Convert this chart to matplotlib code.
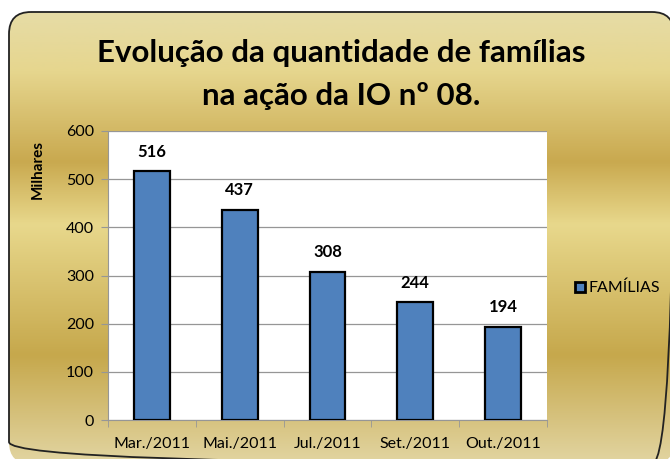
import numpy as np
from matplotlib import pyplot as plt
from matplotlib.colors import LinearSegmentedColormap
from matplotlib.patches import FancyBboxPatch
from matplotlib.lines import Line2D

plt.rcParams['font.family'] = ['Lato', 'DejaVu Sans']

months = ['Mar./2011', 'Mai./2011', 'Jul./2011', 'Set./2011', 'Out./2011']
familias = [516, 437, 308, 244, 194]
title = 'Evolução da quantidade de famílias\nna ação da IO nº 08.'

W, H = 670, 459
fig = plt.figure(figsize=(W / 100, H / 100), dpi=100)

# gold metallic background, drawn in pixel coords of the whole figure
bg = fig.add_axes([0, 0, 1, 1])
bg.set_xlim(0, W)
bg.set_ylim(H, 0)
bg.axis('off')

stops = [(0.0, '#e6dca6'), (0.13, '#e6d68e'), (0.33, '#c9a94f'),
         (0.47, '#e8d88c'), (0.76, '#c6a84c'), (1.0, '#e2d5a2')]
cmap = LinearSegmentedColormap.from_list('gold', stops)
grad = np.linspace(0, 1, 256).reshape(-1, 1)
box = FancyBboxPatch((9, 12), 665, 452, boxstyle='round,pad=0,rounding_size=22',
                     facecolor='none', edgecolor='#222222', linewidth=1.3, zorder=3)
bg.add_patch(box)
img = bg.imshow(grad, cmap=cmap, extent=(9, 674, 464, 12), aspect='auto', zorder=1)
img.set_clip_path(box)

fig.text(0.509, 1 - 74.5 / H, title, ha='center', va='center', fontsize=22.5,
         fontweight='bold', linespacing=1.65)

ax = fig.add_axes([108 / W, 1 - 420 / H, 439 / W, 289 / H])
x = np.arange(len(months))
bars = ax.bar(x, familias, width=0.41, color='#4f81bd', edgecolor='black',
              linewidth=1.6, zorder=3, label='FAMÍLIAS')
for xi, v in zip(x, familias):
    ax.annotate(str(v), (xi, v), xytext=(0, 14), textcoords='offset points',
                ha='center', va='center', fontsize=12, fontweight='bold')

ax.set_xlim(-0.5, len(months) - 0.5)
ax.set_ylim(0, 600)
ax.set_yticks(range(0, 601, 100))
ax.yaxis.grid(True, color='#969696', linewidth=0.9)
ax.set_axisbelow(True)
ax.set_xticks(x)
ax.set_xticklabels(months, fontsize=11.5)
ax.set_xticks(np.arange(-0.5, len(months), 1), minor=True)
ax.tick_params(axis='x', which='major', length=0, pad=12)
ax.tick_params(axis='x', which='minor', length=5, color='#969696', direction='out')
ax.tick_params(axis='y', length=5, color='#969696', labelsize=11.5, pad=5)
for s in ['top', 'right']:
    ax.spines[s].set_visible(False)
for s in ['left', 'bottom']:
    ax.spines[s].set_color('#969696')
ax.set_ylabel('Milhares', fontsize=11, fontweight='bold')
ax.yaxis.set_label_coords(-0.1435, 0.868)

handle = Line2D([], [], marker='s', linestyle='none', markersize=7.5,
                markerfacecolor='#4f81bd', markeredgecolor='black', markeredgewidth=2)
fig.legend([handle], ['FAMÍLIAS'], loc='center left', bbox_to_anchor=(576 / W, 1 - 288 / H),
           frameon=False, fontsize=11.5, handlelength=0.5, handletextpad=0.3,
           borderpad=0, borderaxespad=0)

fig.savefig('out.png', dpi=100)
